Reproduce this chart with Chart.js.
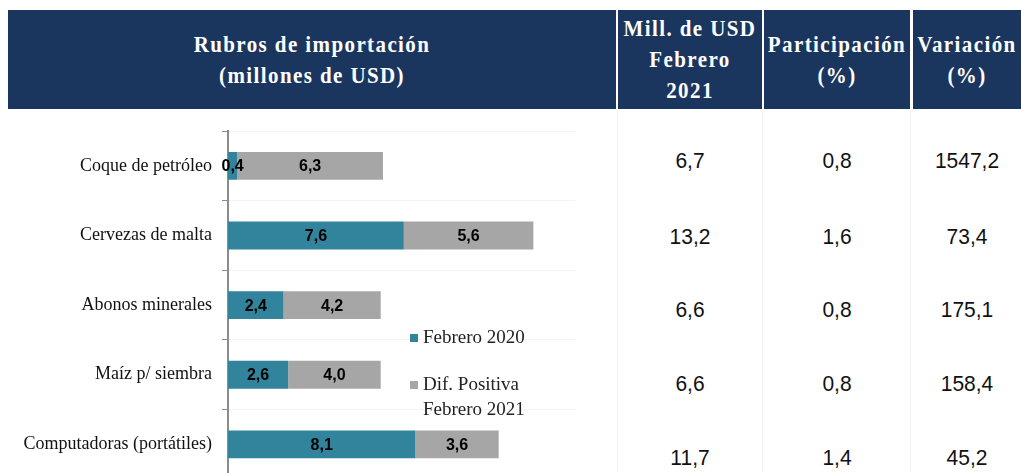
<!DOCTYPE html>
<html><head><meta charset="utf-8">
<script src="https://cdn.jsdelivr.net/npm/chart.js@4/dist/chart.umd.min.js"></script>
<style>
html,body{margin:0;padding:0;width:1021px;height:473px;overflow:hidden;background:#fff;}
.hdr{position:absolute;top:10px;height:99px;background:#1b365e;color:#fff;font-family:"Liberation Serif","Times New Roman",serif;font-weight:bold;font-size:21px;letter-spacing:1.4px;display:flex;flex-direction:column;justify-content:center;align-items:center;text-align:center;line-height:31px;}
.hdr div{transform:scaleY(1.1);}
.val{position:absolute;font-family:"Liberation Sans",Arial,sans-serif;font-size:21px;color:#111;transform:translate(-50%,-50%) scaleY(1.05);white-space:nowrap;}
.sep{position:absolute;top:110px;height:363px;width:1px;background:#f3f3f3;}
#wrap{position:absolute;left:0;top:110px;width:600px;height:390px;}
</style></head><body>
<div id="headers"></div>
<div class="sep" style="left:617px"></div>
<div class="sep" style="left:762px"></div>
<div class="sep" style="left:910px"></div>
<div id="table"></div>
<div id="wrap"><canvas id="c" width="600" height="390"></canvas></div>
<script>
const categories = ["Coque de petróleo","Cervezas de malta","Abonos minerales","Maíz p/ siembra","Computadoras (portátiles)"];
const febrero2020 = [0.4, 7.6, 2.4, 2.6, 8.1];
const difPositiva = [6.3, 5.6, 4.2, 4.0, 3.6];
const millUSD2021 = ["6,7","13,2","6,6","6,6","11,7"];
const participacion = ["0,8","1,6","0,8","0,8","1,4"];
const variacion = ["1547,2","73,4","175,1","158,4","45,2"];
const seriesLabels = [["Febrero 2020"], ["Dif. Positiva","Febrero 2021"]];
const headerTexts = [["Rubros de importación","(millones de USD)"],["Mill. de USD","Febrero","2021"],["Participación","(%)"],["Variación","(%)"]];

const hdrBoxes = [[8,608],[618,144],[764,146],[913,108]];
const hd = document.getElementById('headers');
headerTexts.forEach((lines,i)=>{
  const d=document.createElement('div');
  d.className='hdr';
  d.style.left=hdrBoxes[i][0]+'px';
  d.style.width=hdrBoxes[i][1]+'px';
  lines.forEach(t=>{const s=document.createElement('div');s.textContent=t;d.appendChild(s);});
  hd.appendChild(d);
});
const colX=[690,837,967];
const rowY=[161,237,310,384,458];
const tb=document.getElementById('table');
[millUSD2021,participacion,variacion].forEach((col,ci)=>{
  col.forEach((v,ri)=>{
    const d=document.createElement('div');d.className='val';
    d.style.left=colX[ci]+'px';d.style.top=rowY[ri]+'px';d.textContent=v;tb.appendChild(d);
  });
});

const fmt = v => v.toFixed(1).replace('.', ',');
const valueLabels = {
  id:'valueLabels',
  afterDatasetsDraw(chart){
    const ctx=chart.ctx;
    ctx.save();
    ctx.font='bold 16px "Liberation Sans Narrow", "Arial Narrow", "Liberation Sans", sans-serif';
    ctx.fillStyle='#000';
    ctx.textAlign='center';ctx.textBaseline='middle';
    chart.data.datasets.forEach((ds,di)=>{
      chart.getDatasetMeta(di).data.forEach((el,i)=>{
        const p=el.getProps(['x','base','y'],true);
        ctx.fillText(fmt(ds.data[i]),(p.x+p.base)/2,p.y+1);
      });
    });
    ctx.restore();
  }
};
const customLegend = {
  id:'customLegend',
  afterDraw(chart,args,opts){
    const ctx=chart.ctx;
    ctx.save();
    ctx.font='19px "Liberation Serif", "Times New Roman", serif';
    ctx.textBaseline='middle';ctx.textAlign='left';
    chart.data.datasets.forEach((ds,di)=>{
      const y0=opts.y+di*opts.gap;
      ctx.fillStyle=ds.backgroundColor;
      ctx.fillRect(opts.x,y0-4,8,8);
      ctx.fillStyle='#222';
      ds.label.forEach((t,li)=>ctx.fillText(t,opts.x+13,y0+li*25));
    });
    ctx.restore();
  }
};

new Chart(document.getElementById('c'),{
  type:'bar',
  data:{labels:categories,datasets:[
    {label:seriesLabels[0],data:febrero2020,backgroundColor:'#31849b',borderWidth:0},
    {label:seriesLabels[1],data:difPositiva,backgroundColor:'#a6a6a6',borderWidth:0}
  ]},
  options:{
    indexAxis:'y',responsive:false,animation:false,
    categoryPercentage:1,barPercentage:0.4,
    layout:{padding:{top:21,bottom:19,right:25,left:0}},
    plugins:{legend:{display:false},tooltip:{enabled:false},
      customLegend:{x:410,y:228,gap:47}},
    scales:{
      x:{stacked:true,min:0,max:15,display:false},
      y:{stacked:true,
        afterFit(s){s.width=228;},
        border:{color:'#8c8c8c',width:2},
        grid:{color:'#f4f4f4',tickColor:'#8c8c8c',tickLength:6,offset:true},
        ticks:{color:'#111',padding:10,font:{family:'"Liberation Serif","Times New Roman",serif',size:18}}
      }
    }
  },
  plugins:[valueLabels,customLegend]
});
</script>
</body></html>
